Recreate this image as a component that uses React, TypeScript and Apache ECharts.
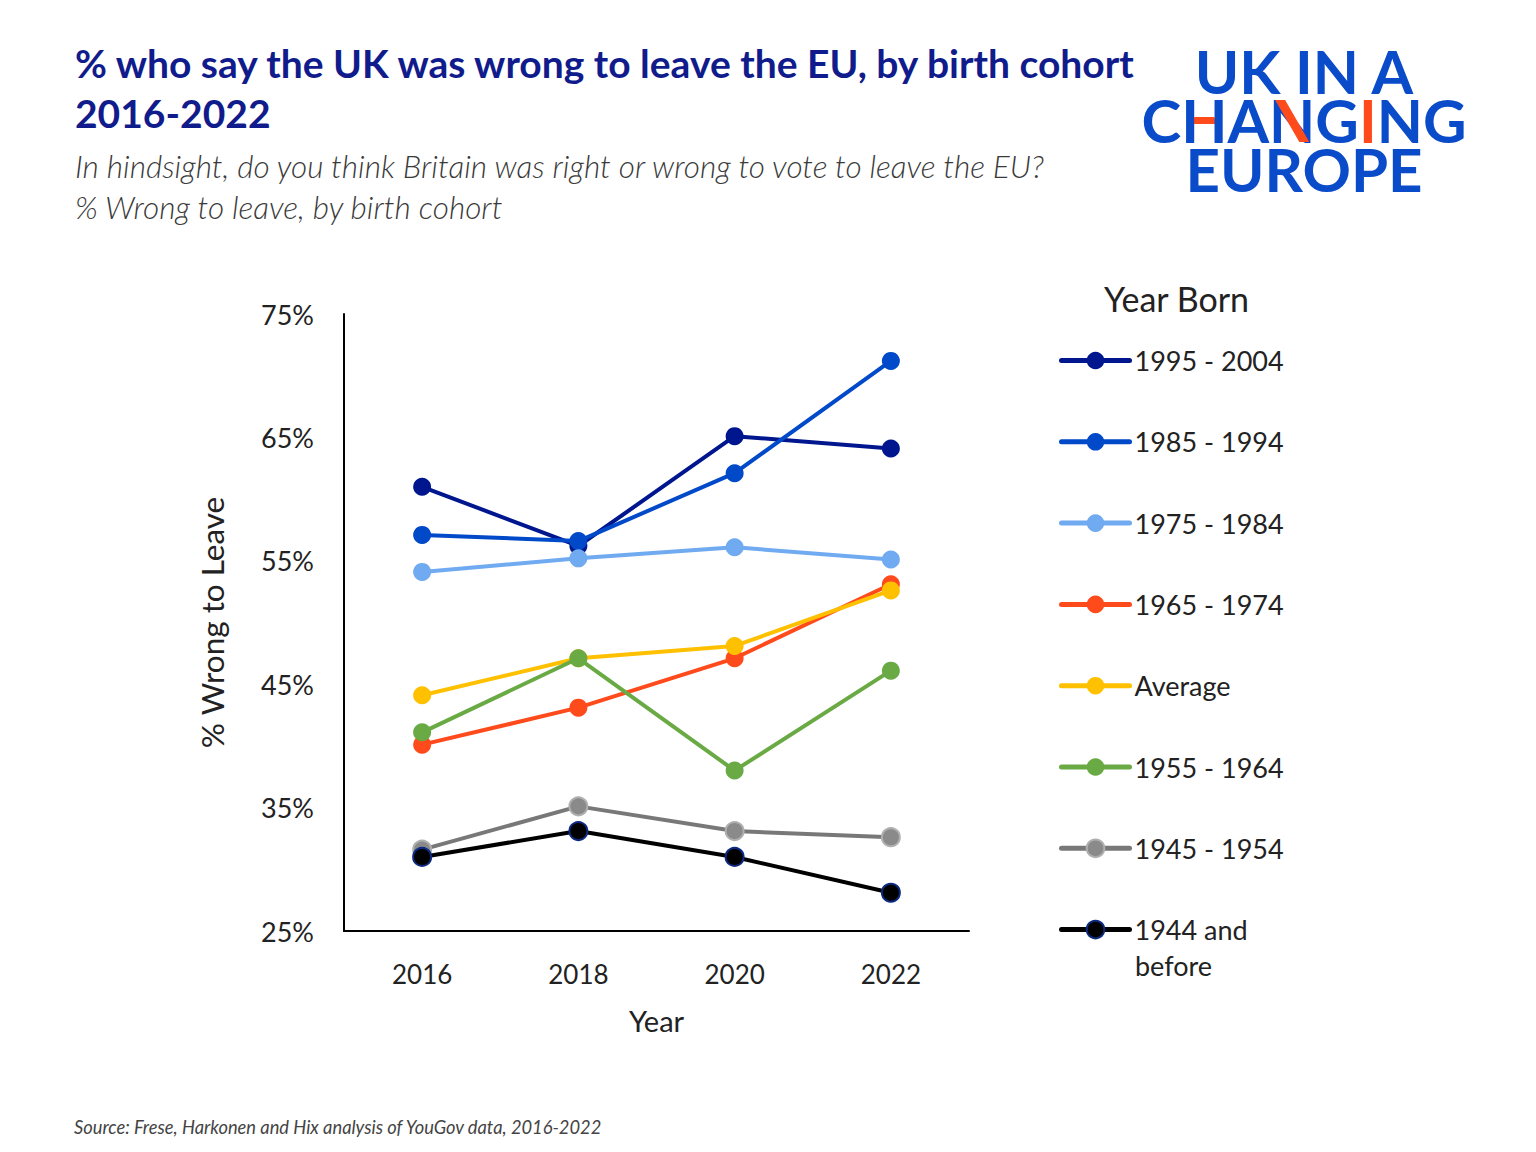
import React, { useEffect, useRef } from "react";
import * as echarts from "echarts";

const years = ["2016", "2018", "2020", "2022"];
const cohortNames = [
  "1995 - 2004",
  "1985 - 1994",
  "1975 - 1984",
  "1965 - 1974",
  "Average",
  "1955 - 1964",
  "1945 - 1954",
  "1944 and before",
];
const v1995 = [61, 56.2, 65.1, 64.1];
const v1985 = [57.1, 56.6, 62.1, 71.2];
const v1975 = [54.1, 55.2, 56.1, 55.1];
const v1965 = [40.1, 43.1, 47.1, 53.1];
const vAvg = [44.1, 47.1, 48.1, 52.6];
const v1955 = [41.1, 47.1, 38.0, 46.1];
const v1945 = [31.6, 35.1, 33.1, 32.6];
const v1944 = [31.0, 33.1, 31.0, 28.1];
const seriesValues = [v1995, v1985, v1975, v1965, vAvg, v1955, v1945, v1944];
const lineColors = ["#00168f", "#0049c9", "#70aaf0", "#ff4a1c", "#ffc000", "#6aaa44", "#787878", "#000000"];
const markerColors = ["#00168f", "#0049c9", "#70aaf0", "#ff4a1c", "#ffc000", "#6aaa44", "#8a8a8a", "#000000"];
const markerBorders = [null, null, null, null, null, null, "#b0b0b0", "#0b2a80"];
const yTicks = [25, 35, 45, 55, 65, 75];

const FONT = "Lato";
const LOGO_BLUE = "#0a4bc9";
const LOGO_RED = "#ff4a1c";
const LOGO_SIZE = 60;
const LOGO_CX = 1304;

export default function App() {
  const ref = useRef<HTMLDivElement>(null);
  useEffect(() => {
    const chart = echarts.init(ref.current!, null, { renderer: "svg" });

    // measure logo letters to place the red accents on H and N
    const ctx = document.createElement("canvas").getContext("2d")!;
    ctx.font = `bold ${LOGO_SIZE}px ${FONT}`;
    const mw = (s: string) => ctx.measureText(s).width;
    const start = LOGO_CX - mw("CHANGING") / 2;
    const hS = start + mw("C");
    const hE = start + mw("CH");
    const nS = start + mw("CHA");
    const nE = start + mw("CHAN");
    const inset = LOGO_SIZE * 0.215;

    const series = cohortNames.map((name, i) => ({
      name,
      type: "line",
      data: seriesValues[i],
      symbol: "circle",
      symbolSize: 18,
      lineStyle: { color: lineColors[i], width: 4 },
      itemStyle: {
        color: markerColors[i],
        borderColor: markerBorders[i] || markerColors[i],
        borderWidth: markerBorders[i] ? 2 : 0,
      },
      emphasis: { disabled: true },
      z: 2 + i,
    }));
    const logoStyle = { fontFamily: FONT, fontWeight: "bold", fontSize: LOGO_SIZE, lineHeight: 49 };
    chart.setOption({
      animation: false,
      backgroundColor: "#ffffff",
      title: [
        {
          text: "% who say the UK was wrong to leave the EU, by birth cohort\n2016-2022",
          left: 70,
          top: 33,
          textStyle: { fontFamily: FONT, fontWeight: "bold", fontSize: 39, color: "#111c8c", lineHeight: 50 },
        },
        {
          text: "In hindsight, do you think Britain was right or wrong to vote to leave the EU?\n% Wrong to leave, by birth cohort",
          left: 70,
          top: 140,
          textStyle: { fontFamily: FONT, fontStyle: "italic", fontWeight: 300, fontSize: 31.5, color: "#3a3a3a", lineHeight: 41 },
        },
        {
          text: "Year Born",
          left: 1099,
          top: 276,
          textStyle: { fontFamily: FONT, fontWeight: "normal", fontSize: 34, color: "#222222" },
        },
        {
          text: "Source: Frese, Harkonen and Hix analysis of YouGov data, 2016-2022",
          left: 69,
          top: 1113,
          textStyle: { fontFamily: FONT, fontStyle: "italic", fontWeight: "normal", fontSize: 18.3, color: "#444444" },
        },
      ],
      graphic: [
        {
          type: "text",
          x: LOGO_CX,
          y: 120,
          z: 10,
          style: {
            text: "{b|UK IN A}\n{b|CHANG}{r|I}{b|NG}\n{b|EUROPE}",
            align: "center",
            verticalAlign: "middle",
            rich: {
              b: { ...logoStyle, fill: LOGO_BLUE, color: LOGO_BLUE },
              r: { ...logoStyle, fill: LOGO_RED, color: LOGO_RED },
            },
          },
        },
        {
          type: "rect",
          z: 11,
          shape: { x: hS + inset, y: 117, width: hE - hS - 2 * inset, height: 7 },
          style: { fill: LOGO_RED },
        },
        {
          type: "polygon",
          z: 11,
          shape: {
            points: [
              [nS + 6, 100],
              [nS + 16, 100],
              [nE - 6, 142],
              [nE - 16, 142],
            ],
          },
          style: { fill: LOGO_RED },
        },
        {
          type: "text",
          left: 1135,
          top: 952,
          style: { text: "before", fontFamily: FONT, fontSize: 27, fill: "#222222" },
        },
      ],
      legend: {
        orient: "vertical",
        left: 1059,
        top: 342,
        padding: 0,
        itemWidth: 68,
        itemHeight: 22,
        itemGap: 44.3,
        data: cohortNames,
        formatter: (n: string) => n.replace(" before", ""),
        lineStyle: { width: 5, cap: "round" },
        textStyle: { fontFamily: FONT, fontSize: 27, color: "#222222", lineHeight: 37 },
        selectedMode: false,
      },
      grid: { left: 344, right: 567, top: 314, bottom: 221, containLabel: false },
      xAxis: {
        type: "category",
        data: years,
        boundaryGap: true,
        name: "Year",
        nameLocation: "middle",
        nameGap: 75,
        nameTextStyle: { fontFamily: FONT, fontSize: 29, color: "#222222" },
        axisLine: { lineStyle: { color: "#000000", width: 2 } },
        axisTick: { show: false },
        axisLabel: { fontFamily: FONT, fontSize: 26, color: "#222222", margin: 30 },
        splitLine: { show: false },
      },
      yAxis: {
        type: "value",
        min: yTicks[0],
        max: yTicks[yTicks.length - 1],
        interval: 10,
        name: "% Wrong to Leave",
        nameLocation: "middle",
        nameGap: 116,
        nameTextStyle: { fontFamily: FONT, fontSize: 31.5, color: "#222222" },
        axisLine: { show: true, lineStyle: { color: "#000000", width: 2 } },
        axisTick: { show: false },
        axisLabel: { fontFamily: FONT, fontSize: 27, color: "#222222", margin: 30, formatter: "{value}%" },
        splitLine: { show: false },
      },
      series,
    });
    return () => chart.dispose();
  }, []);
  return <div ref={ref} style={{ width: 1536, height: 1152, margin: -8 }} />;
}
